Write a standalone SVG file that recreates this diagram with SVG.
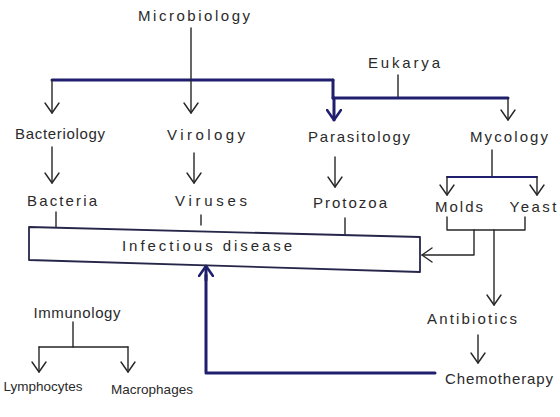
<svg xmlns="http://www.w3.org/2000/svg" width="560" height="417" viewBox="0 0 560 417">
<style>
text{font-family:"Liberation Sans","DejaVu Sans",sans-serif;font-size:15px;fill:#2a2a2a;text-anchor:middle}
text.sm{font-size:13.5px}
.thin{fill:none;stroke:#262626;stroke-width:1.4;stroke-linecap:round;stroke-linejoin:round}
.thick{fill:none;stroke:#1f1f6e;stroke-width:3;stroke-linecap:round;stroke-linejoin:round}
.box{fill:none;stroke:#26264a;stroke-width:1.8;stroke-linejoin:round}
.arr{marker-end:url(#ah)}
.arrk{marker-end:url(#ahk)}
</style>
<defs>
<marker id="ah" viewBox="0 0 12 16" refX="11" refY="8" markerWidth="12" markerHeight="16" markerUnits="userSpaceOnUse" orient="auto">
<path d="M1,1 L11,8 L1,15" fill="none" stroke="#262626" stroke-width="1.4" stroke-linecap="round" stroke-linejoin="round"/>
</marker>
<marker id="ahk" viewBox="0 0 12 16" refX="11" refY="8" markerWidth="12" markerHeight="16" markerUnits="userSpaceOnUse" orient="auto">
<path d="M1,1 L11,8 L1,15" fill="none" stroke="#1f1f6e" stroke-width="2.6" stroke-linecap="round" stroke-linejoin="round"/>
</marker>
</defs>

<g id="connectors">
<line class="thin" x1="191" y1="28" x2="191" y2="80"/>
<line class="thick" x1="52" y1="80" x2="333" y2="80"/>
<line class="thin arr" x1="52" y1="80" x2="52" y2="113"/>
<line class="thin arr" x1="191" y1="80" x2="191" y2="113"/>
<polyline class="thick" points="333,80 333,98"/>
<line class="thick arrk" x1="334" y1="98" x2="334" y2="120"/>
<line class="thin" x1="398" y1="75" x2="398" y2="98"/>
<line class="thick" x1="333" y1="98" x2="508" y2="98"/>
<line class="thin arr" x1="508" y1="98" x2="508" y2="120"/>
<line class="thin arr" x1="52" y1="147" x2="52" y2="183"/>
<line class="thin arr" x1="194" y1="153" x2="194" y2="183"/>
<line class="thin arr" x1="335" y1="157" x2="335" y2="187"/>
<line class="thin" x1="492" y1="150" x2="492" y2="177"/>
<line class="thick" x1="447" y1="177" x2="537" y2="177" style="stroke-width:2"/>
<line class="thin arr" x1="447" y1="177" x2="447" y2="195"/>
<line class="thin arr" x1="537" y1="177" x2="537" y2="195"/>
<line class="thin" x1="56" y1="212" x2="56" y2="227"/>
<line class="thin" x1="201" y1="215" x2="201" y2="225"/>
<line class="thin" x1="345" y1="218" x2="345" y2="234"/>
<polyline class="thin" points="447,217 447,230 525,230 525,217"/>
<polyline class="thin arr" points="474,230 474,255 422,255"/>
<line class="thin arr" x1="494" y1="230" x2="494" y2="305"/>
<line class="thin arr" x1="478" y1="335" x2="478" y2="363"/>
<polyline class="thick" points="435,373 206,373 206,275"/>
<line class="thick arrk" x1="206" y1="280" x2="206" y2="266"/>
<line class="thin" x1="73" y1="322" x2="73" y2="347"/>
<line class="thin" x1="39" y1="347" x2="128" y2="347"/>
<line class="thin arr" x1="39" y1="347" x2="39" y2="372"/>
<line class="thin arr" x1="128" y1="347" x2="128" y2="372"/>
</g>

<g id="microbiology"><text x="194" y="21" textLength="112" lengthAdjust="spacing">Microbiology</text></g>
<g id="eukarya"><text x="404" y="68" textLength="72" lengthAdjust="spacing">Eukarya</text></g>
<g id="bacteriology"><text x="60" y="139" textLength="90" lengthAdjust="spacing">Bacteriology</text></g>
<g id="virology"><text x="206" y="140" textLength="78" lengthAdjust="spacing">Virology</text></g>
<g id="parasitology"><text x="359" y="142" textLength="102" lengthAdjust="spacing">Parasitology</text></g>
<g id="mycology"><text x="509" y="142" textLength="78" lengthAdjust="spacing">Mycology</text></g>
<g id="bacteria"><text x="62" y="206" textLength="70" lengthAdjust="spacing">Bacteria</text></g>
<g id="viruses"><text x="211" y="206" textLength="72" lengthAdjust="spacing">Viruses</text></g>
<g id="protozoa"><text x="350" y="208" textLength="74" lengthAdjust="spacing">Protozoa</text></g>
<g id="molds"><text x="459" y="212" textLength="48" lengthAdjust="spacing">Molds</text></g>
<g id="yeast"><text x="533" y="212" textLength="47" lengthAdjust="spacing">Yeast</text></g>
<g id="infectious-disease">
<polygon class="box" points="29,227 420,237 420,272 29,260"/>
<text x="207" y="251" textLength="170" lengthAdjust="spacing">Infectious disease</text>
</g>
<g id="antibiotics"><text x="472" y="324" textLength="90" lengthAdjust="spacing">Antibiotics</text></g>
<g id="chemotherapy"><text x="499" y="384" textLength="108" lengthAdjust="spacing">Chemotherapy</text></g>
<g id="immunology"><text x="77" y="318" textLength="87" lengthAdjust="spacing">Immunology</text></g>
<g id="lymphocytes"><text class="sm" x="43" y="391">Lymphocytes</text></g>
<g id="macrophages"><text class="sm" x="152" y="394">Macrophages</text></g>
</svg>
